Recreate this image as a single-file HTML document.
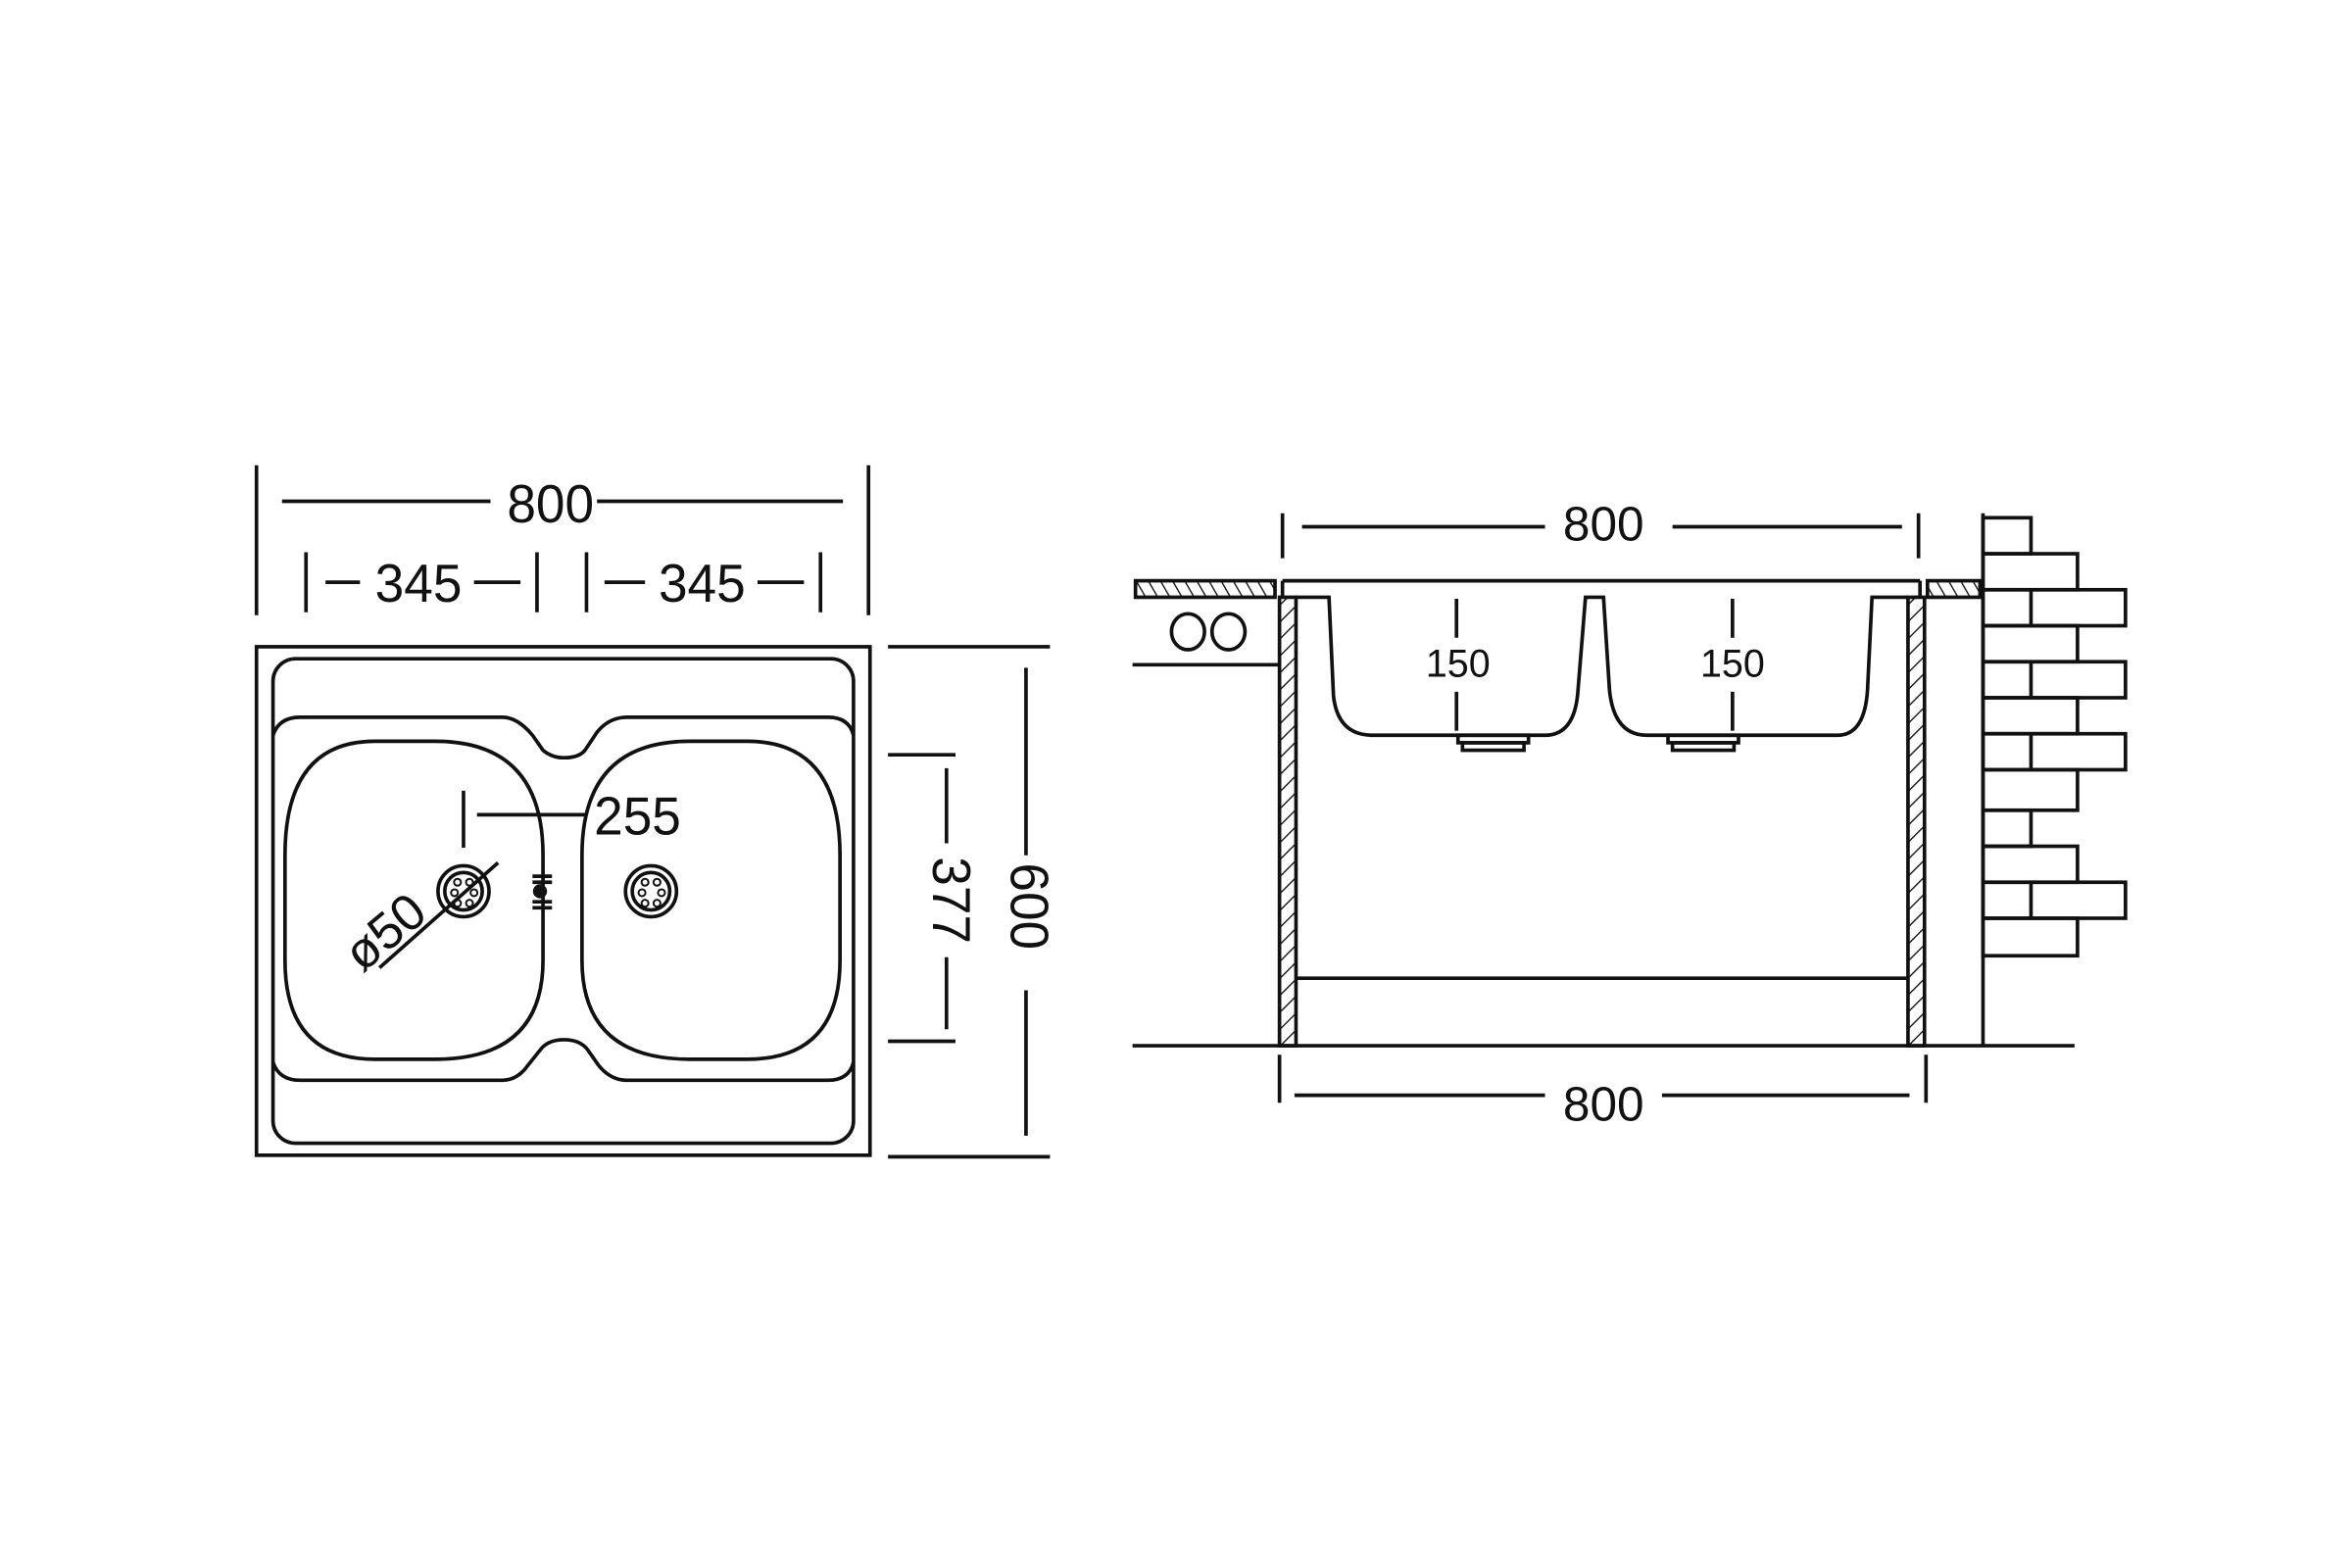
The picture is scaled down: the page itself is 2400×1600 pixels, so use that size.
<!DOCTYPE html>
<html><head><meta charset="utf-8"><style>html,body{margin:0;padding:0;background:#fff}svg{display:block}</style></head>
<body>
<svg width="2400" height="1600" viewBox="0 0 1568 1045" xmlns="http://www.w3.org/2000/svg" font-family="Liberation Sans, sans-serif" fill="none" stroke="#111" stroke-width="2.4">
<defs>
<pattern id="h1" patternUnits="userSpaceOnUse" width="8" height="8" patternTransform="rotate(45)"><line x1="0" y1="0" x2="0" y2="8" stroke="#111" stroke-width="1.8"/></pattern>
<pattern id="h2" patternUnits="userSpaceOnUse" width="7" height="7" patternTransform="rotate(-30)"><line x1="0" y1="0" x2="0" y2="7" stroke="#111" stroke-width="1.8"/></pattern>
</defs>
<!-- LEFT VIEW -->
<rect x="171" y="431" width="409" height="339"/>
<rect x="182" y="439" width="387" height="323" rx="15"/>
<path d="M182,490 Q186,478 200,478 L335,478 Q345,478 355,490 L362,500 Q368,505 376,505 Q386,505 390,500 L398,488 Q406,478 418,478 L552,478 Q566,478 569,490"/>
<path d="M182,708 Q186,720 200,720 L335,720 Q345,720 352,710 L360,700 Q365,693 376,693 Q387,693 392,700 L399,710 Q407,720 418,720 L552,720 Q566,720 569,708"/>
<path d="M250,494 L290,494 Q362,494 362,570 L362,640 Q362,706 290,706 L250,706 Q190,706 190,640 L190,570 Q190,494 250,494 Z"/>
<path d="M460,494 L498,494 Q560,494 560,570 L560,640 Q560,706 498,706 L460,706 Q388,706 388,640 L388,570 Q388,494 460,494 Z"/>
<circle cx="309" cy="594" r="17"/><circle cx="309" cy="594" r="12.5"/>
<g stroke-width="1.3"><circle cx="305" cy="588" r="2.3"/><circle cx="313" cy="588" r="2.3"/><circle cx="303" cy="595" r="2.3"/><circle cx="316" cy="595" r="2.3"/><circle cx="305" cy="602" r="2.3"/><circle cx="313" cy="602" r="2.3"/></g>
<circle cx="434" cy="594" r="17"/><circle cx="434" cy="594" r="12.5"/>
<g stroke-width="1.3"><circle cx="430" cy="588" r="2.3"/><circle cx="438" cy="588" r="2.3"/><circle cx="428" cy="595" r="2.3"/><circle cx="441" cy="595" r="2.3"/><circle cx="430" cy="602" r="2.3"/><circle cx="438" cy="602" r="2.3"/></g>
<line x1="253" y1="645" x2="332" y2="575"/>
<text x="264" y="630" font-size="34" fill="#111" stroke="none" transform="rotate(-40 264 630)" text-anchor="middle">ø50</text>
<line x1="355" y1="584" x2="368" y2="584"/><line x1="355" y1="588" x2="368" y2="588"/>
<line x1="355" y1="601" x2="368" y2="601"/><line x1="355" y1="605" x2="368" y2="605"/>
<circle cx="360" cy="594" r="3.5" fill="#111"/>
<line x1="309" y1="527" x2="309" y2="565"/>
<line x1="318" y1="543" x2="390" y2="543"/>
<text x="425" y="556" font-size="36" fill="#111" stroke="none" text-anchor="middle" textLength="58" lengthAdjust="spacingAndGlyphs">255</text>
<!-- top dims -->
<line x1="171" y1="310" x2="171" y2="410"/><line x1="579" y1="310" x2="579" y2="410"/>
<line x1="188" y1="334" x2="327" y2="334"/><line x1="398" y1="334" x2="562" y2="334"/>
<text x="367" y="348" font-size="36" fill="#111" stroke="none" text-anchor="middle" textLength="58" lengthAdjust="spacingAndGlyphs">800</text>
<line x1="204" y1="368" x2="204" y2="408"/><line x1="358" y1="368" x2="358" y2="408"/>
<line x1="391" y1="368" x2="391" y2="408"/><line x1="547" y1="368" x2="547" y2="408"/>
<line x1="217" y1="388" x2="240" y2="388"/><line x1="316" y1="388" x2="347" y2="388"/>
<line x1="403" y1="388" x2="430" y2="388"/><line x1="505" y1="388" x2="536" y2="388"/>
<text x="279" y="401" font-size="36" fill="#111" stroke="none" text-anchor="middle" textLength="58" lengthAdjust="spacingAndGlyphs">345</text>
<text x="468" y="401" font-size="36" fill="#111" stroke="none" text-anchor="middle" textLength="58" lengthAdjust="spacingAndGlyphs">345</text>
<!-- right dims -->
<line x1="592" y1="431" x2="700" y2="431"/><line x1="592" y1="771" x2="700" y2="771"/>
<line x1="684" y1="445" x2="684" y2="570"/><line x1="684" y1="660" x2="684" y2="757"/>
<text x="674" y="604" font-size="36" fill="#111" stroke="none" text-anchor="middle" transform="rotate(90 674 604)" textLength="58" lengthAdjust="spacingAndGlyphs">600</text>
<line x1="592" y1="503" x2="637" y2="503"/><line x1="592" y1="694" x2="637" y2="694"/>
<line x1="631" y1="512" x2="631" y2="562"/><line x1="631" y1="638" x2="631" y2="686"/>
<text x="622" y="600" font-size="36" fill="#111" stroke="none" text-anchor="middle" transform="rotate(90 622 600)" textLength="58" lengthAdjust="spacingAndGlyphs">377</text>
<!-- RIGHT VIEW -->
<line x1="855" y1="342" x2="855" y2="372"/><line x1="1279" y1="342" x2="1279" y2="372"/>
<line x1="868" y1="351" x2="1030" y2="351"/><line x1="1115" y1="351" x2="1268" y2="351"/>
<text x="1069" y="360" font-size="32" fill="#111" stroke="none" text-anchor="middle" textLength="54" lengthAdjust="spacingAndGlyphs">800</text>
<rect x="757" y="387" width="93" height="11" fill="url(#h2)"/>
<rect x="1285" y="387" width="35" height="11" fill="url(#h2)"/>
<line x1="855" y1="387" x2="1280" y2="387"/><line x1="855" y1="387" x2="855" y2="398"/><line x1="1280" y1="387" x2="1280" y2="398"/>
<rect x="853" y="398" width="11" height="299" fill="url(#h1)"/>
<rect x="1272" y="398" width="11" height="299" fill="url(#h1)"/>
<line x1="755" y1="443" x2="853" y2="443"/>
<ellipse cx="792" cy="421" rx="11" ry="12"/><ellipse cx="819" cy="421" rx="11" ry="12"/>
<path d="M864,398 L886,398 L889,464 Q892,490 915,490 L1030,490 Q1050,490 1052,460 L1057,398 L1069,398 L1073,460 Q1076,490 1098,490 L1225,490 Q1243,490 1245,460 L1248,398 L1272,398"/>
<rect x="972" y="490" width="47" height="5"/><rect x="975" y="495" width="41" height="5"/>
<rect x="1112" y="490" width="47" height="5"/><rect x="1115" y="495" width="41" height="5"/>
<line x1="971" y1="399" x2="971" y2="425"/><line x1="971" y1="461" x2="971" y2="487"/>
<line x1="1155" y1="399" x2="1155" y2="425"/><line x1="1155" y1="461" x2="1155" y2="487"/>
<text x="972" y="451" font-size="26" fill="#111" stroke="none" text-anchor="middle" textLength="43" lengthAdjust="spacingAndGlyphs">150</text>
<text x="1155" y="451" font-size="26" fill="#111" stroke="none" text-anchor="middle" textLength="43" lengthAdjust="spacingAndGlyphs">150</text>
<line x1="864" y1="652" x2="1272" y2="652"/>
<line x1="755" y1="697" x2="1383" y2="697"/>
<line x1="853" y1="703" x2="853" y2="735"/><line x1="1284" y1="703" x2="1284" y2="735"/>
<line x1="863" y1="730" x2="1030" y2="730"/><line x1="1108" y1="730" x2="1273" y2="730"/>
<text x="1069" y="747" font-size="32" fill="#111" stroke="none" text-anchor="middle" textLength="54" lengthAdjust="spacingAndGlyphs">800</text>
<!-- bricks -->
<line x1="1322" y1="342" x2="1322" y2="697"/>
<g>
<rect x="1322" y="345" width="32" height="24"/>
<rect x="1322" y="369" width="63" height="24"/>
<rect x="1322" y="393" width="95" height="24"/><line x1="1354" y1="393" x2="1354" y2="417"/>
<rect x="1322" y="417" width="63" height="24"/>
<rect x="1322" y="441" width="95" height="24"/><line x1="1354" y1="441" x2="1354" y2="465"/>
<rect x="1322" y="465" width="63" height="24"/>
<rect x="1322" y="489" width="95" height="24"/><line x1="1354" y1="489" x2="1354" y2="513"/>
<rect x="1322" y="513" width="63" height="27"/>
<rect x="1322" y="540" width="32" height="24"/>
<rect x="1322" y="564" width="63" height="24"/>
<rect x="1322" y="588" width="95" height="24"/><line x1="1354" y1="588" x2="1354" y2="612"/>
<rect x="1322" y="612" width="63" height="25"/>
</g>
</svg>
</body></html>
